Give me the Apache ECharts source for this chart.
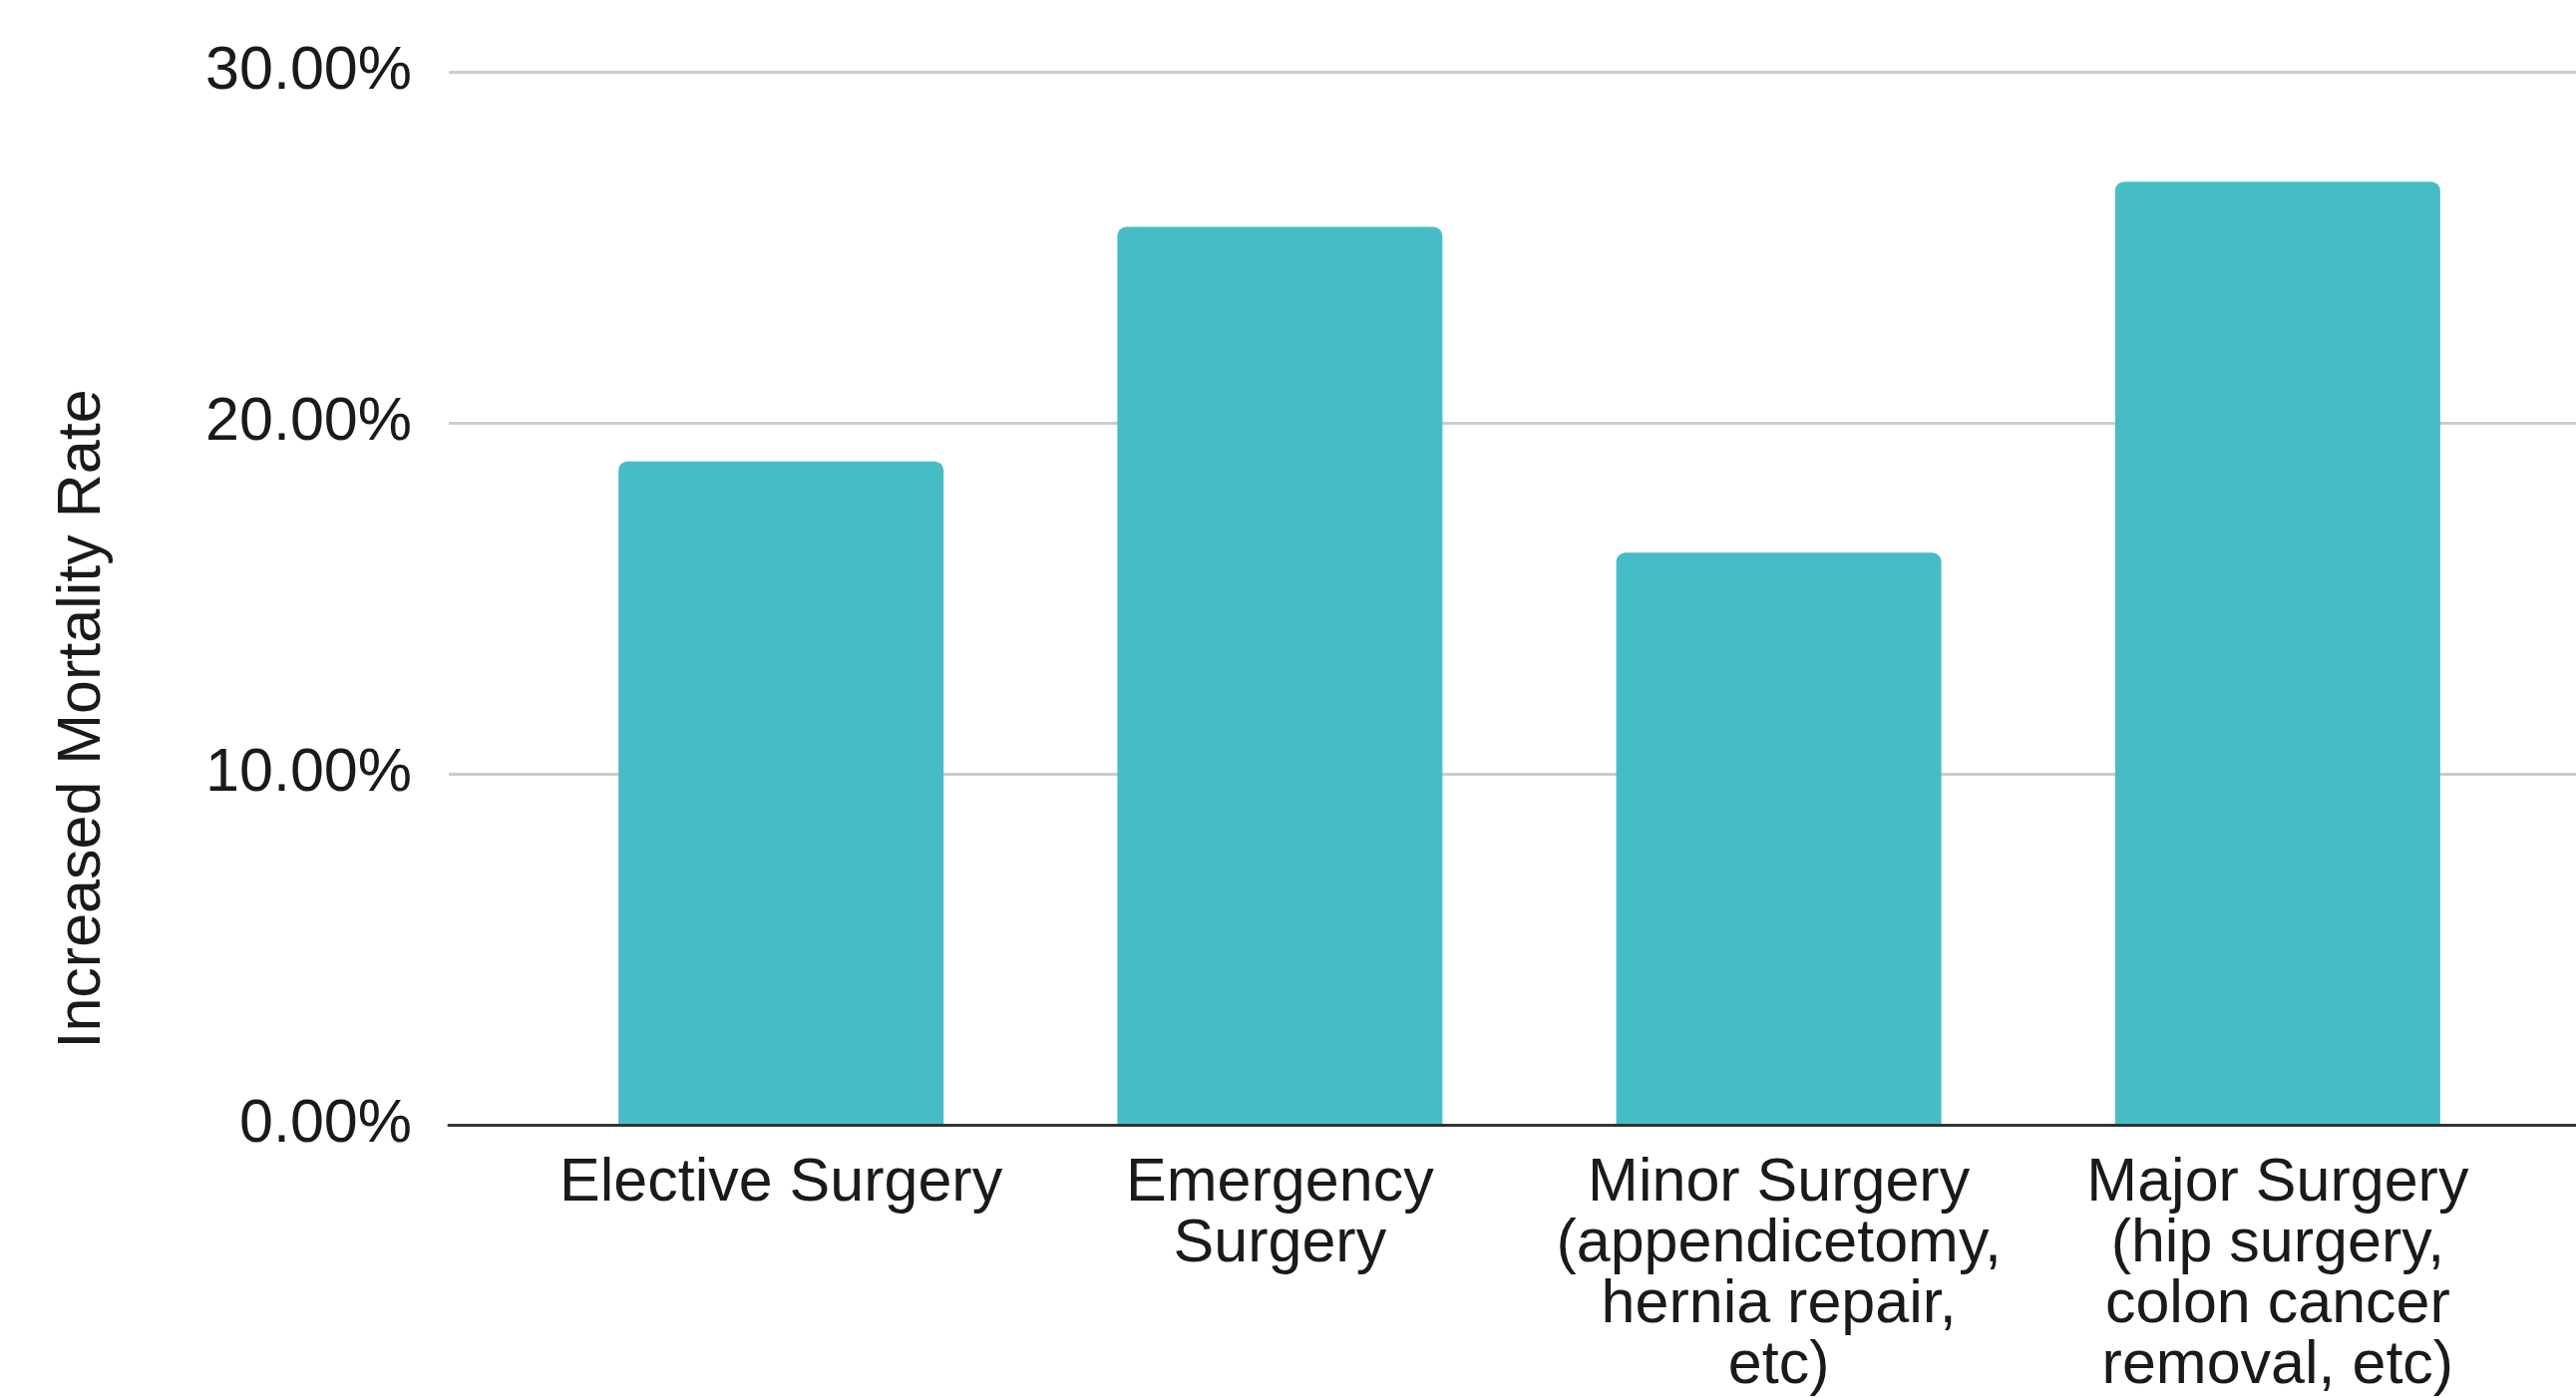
<!DOCTYPE html>
<html>
<head>
<meta charset="utf-8">
<title>Increased Mortality Rate</title>
<script src="https://cdn.jsdelivr.net/npm/echarts@6/dist/echarts.min.js"></script>
<style>
  html, body { margin: 0; padding: 0; background: #fff; }
  #chart { width: 2583px; height: 1402px; }
</style>
</head>
<body>
<div id="chart"></div>
<script>
// data
const categories = [
  "Elective Surgery",
  "Emergency\nSurgery",
  "Minor Surgery\n(appendicetomy,\nhernia repair,\netc)",
  "Major Surgery\n(hip surgery,\ncolon cancer\nremoval, etc)"
];
const mortalityRate = [18.9, 25.58, 16.3, 26.87];
const yTicks = [0, 10, 20, 30];

const fontFamily = "'Liberation Sans', Arial, sans-serif";
const textColor = "#1a1a1a";

function initChart() {
  let chart = echarts.init(document.getElementById("chart"));

  let option = {
    animation: false,
    grid: [
      // full width grid: gridlines + baseline
      { left: 450, right: 0, top: 72, bottom: 274 },
      // bar grid, narrower so the bands line up with the picture
      { left: 533, right: 49, top: 72, bottom: 274 }
    ],
    xAxis: [
      {
        gridIndex: 0,
        type: "value",
        min: 0,
        max: 1,
        z: 5,
        axisLine: { show: true, lineStyle: { color: "#333", width: 3 } },
        axisTick: { show: false },
        axisLabel: { show: false },
        splitLine: { show: false }
      },
      {
        gridIndex: 1,
        type: "category",
        data: categories,
        axisLine: { show: false },
        axisTick: { show: false },
        axisLabel: {
          interval: 0,
          margin: 29,
          fontSize: 61,
          lineHeight: 61,
          color: textColor,
          fontFamily: fontFamily,
          align: "center"
        }
      }
    ],
    yAxis: [
      {
        gridIndex: 0,
        type: "value",
        min: yTicks[0],
        max: yTicks[yTicks.length - 1],
        interval: yTicks[1] - yTicks[0],
        name: "Increased Mortality Rate",
        nameLocation: "middle",
        nameGap: 336,
        nameTextStyle: {
          fontSize: 61,
          color: textColor,
          fontFamily: fontFamily,
          // title sits a bit below the middle of the plot
          padding: [0, 242, 0, 0]
        },
        axisLine: { show: false },
        axisTick: { show: false },
        axisLabel: {
          margin: 37,
          fontSize: 61,
          color: textColor,
          fontFamily: fontFamily,
          formatter: (v) => v.toFixed(2) + "%"
        },
        splitLine: { show: true, lineStyle: { color: "#cccccc", width: 3 } }
      },
      {
        gridIndex: 1,
        type: "value",
        min: yTicks[0],
        max: yTicks[yTicks.length - 1],
        show: false,
        splitLine: { show: false }
      }
    ],
    series: [
      {
        type: "bar",
        xAxisIndex: 1,
        yAxisIndex: 1,
        data: mortalityRate,
        barWidth: 326,
        itemStyle: {
          color: "#46bdc6",
          borderRadius: [9, 9, 0, 0]
        }
      }
    ]
  };

  chart.setOption(option);
}

initChart();
</script>
</body>
</html>
